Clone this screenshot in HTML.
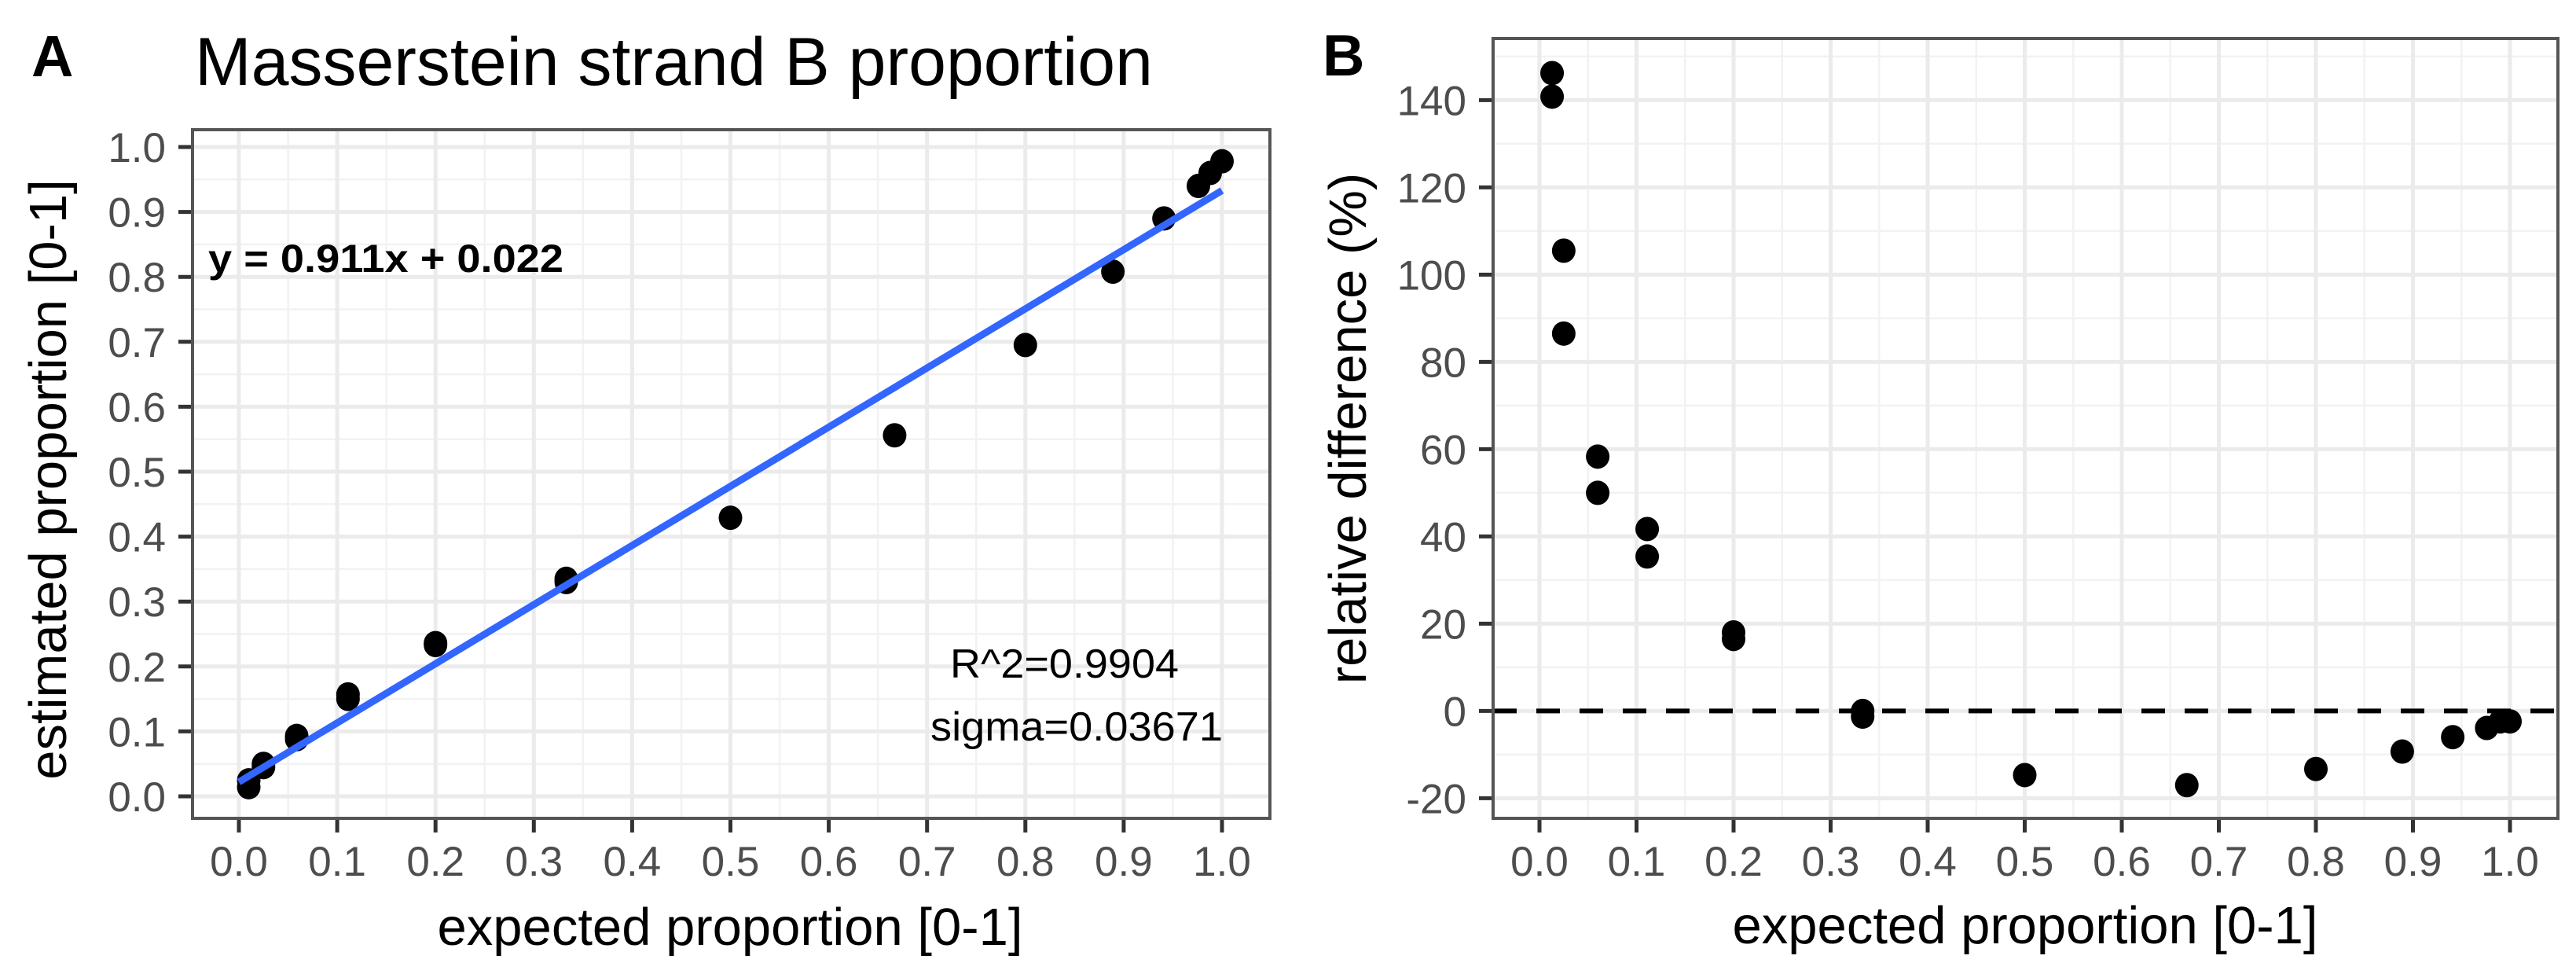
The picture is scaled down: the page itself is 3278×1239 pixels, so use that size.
<!DOCTYPE html>
<html><head><meta charset="utf-8"><style>
html,body{margin:0;padding:0;background:#fff;}
svg{display:block;font-family:"Liberation Sans",Arial,sans-serif;}
</style></head><body>
<svg id="fig" width="3278" height="1239" viewBox="0 0 3278 1239" xmlns="http://www.w3.org/2000/svg">
<rect x="0" y="0" width="3278" height="1239" fill="#fff"/>
<g id="pa"></g>
<g id="pb"></g>
</svg>
<script>
// Panel A data
const aX = [0.01, 0.01, 0.025, 0.025, 0.0588, 0.0588, 0.111, 0.111, 0.2, 0.2, 0.333, 0.333, 0.5, 0.667, 0.8, 0.889, 0.941, 0.976, 0.988, 1.0];
const aY = [0.0246, 0.0141, 0.05, 0.045, 0.093, 0.088, 0.157, 0.150, 0.236, 0.233, 0.335, 0.330, 0.429, 0.556, 0.695, 0.808, 0.890, 0.940, 0.960, 0.978];
const aSlope = [0.911];
const aIntercept = [0.022];
const aXTicks = [0,0.1,0.2,0.3,0.4,0.5,0.6,0.7,0.8,0.9,1.0];
const aYTicks = [0,0.1,0.2,0.3,0.4,0.5,0.6,0.7,0.8,0.9,1.0];
// Panel B data
const bX = [0.013, 0.013, 0.025, 0.025, 0.06, 0.06, 0.111, 0.111, 0.2, 0.2, 0.333, 0.333, 0.5, 0.667, 0.8, 0.889, 0.941, 0.976, 0.99, 1.0];
const bY = [146.2, 140.8, 105.5, 86.5, 58.3, 50, 41.7, 35.4, 18, 16.5, 0, -1.3, -14.7, -17.0, -13.3, -9.3, -6.0, -3.9, -2.4, -2.4];
const bXTicks = [0,0.1,0.2,0.3,0.4,0.5,0.6,0.7,0.8,0.9,1.0];
const bYTicks = [-20,0,20,40,60,80,100,120,140];

const NS = "http://www.w3.org/2000/svg";
function mk(parent, tag, attrs, text){
  const e = document.createElementNS(NS, tag);
  for (const k in attrs) e.setAttribute(k, attrs[k]);
  if (text !== undefined) e.textContent = text;
  parent.appendChild(e);
  return e;
}

function panel(g, cfg){
  const {L,R,T,B,x0px,x1px,xmin,xmax,ypx0,yv0,ypx1,yv1} = cfg;
  const sx = v => x0px + (v - xmin) / (xmax - xmin) * (x1px - x0px);
  const sy = v => ypx0 + (v - yv0) / (yv1 - yv0) * (ypx1 - ypx0);
  cfg.sx = sx; cfg.sy = sy;
  const clipId = cfg.id + "clip";
  const defs = mk(g, "defs", {});
  const cp = mk(defs, "clipPath", {id: clipId});
  mk(cp, "rect", {x:L, y:T, width:R-L, height:B-T});
  const grid = mk(g, "g", {});
  
  
  cfg.xMinor.forEach(v => { const p = sx(v); if (p>L && p<R) mk(grid,"line",{x1:p,x2:p,y1:T,y2:B,stroke:"#f2f2f2","stroke-width":2.5}); });
  cfg.yMinor.forEach(v => { const p = sy(v); if (p>T && p<B) mk(grid,"line",{x1:L,x2:R,y1:p,y2:p,stroke:"#f2f2f2","stroke-width":2.5}); });
  cfg.xTicks.forEach(v => { const p = sx(v); mk(grid,"line",{x1:p,x2:p,y1:T,y2:B,stroke:"#ebebeb","stroke-width":5}); });
  cfg.yTicks.forEach(v => { const p = sy(v); mk(grid,"line",{x1:L,x2:R,y1:p,y2:p,stroke:"#ebebeb","stroke-width":5}); });
  const marks = mk(g, "g", {"clip-path":"url(#"+clipId+")"});
  cfg.marks = marks;
  cfg.xTicks.forEach(v => {
    const p = sx(v);
    const t = mk(g,"line",{x1:p,x2:p,y1:B,y2:B+18,stroke:"#333","stroke-width":5});
    
    
    const lb = mk(g,"text",{x:p,y:B+73,"text-anchor":"middle","font-size":53,fill:"#4d4d4d"}, v.toFixed(1));
    
    
  });
  cfg.yTicks.forEach(v => {
    const p = sy(v);
    const t = mk(g,"line",{x1:L-18,x2:L,y1:p,y2:p,stroke:"#333","stroke-width":5});
    
    
    const lb = mk(g,"text",{x:L-34,y:p+19,"text-anchor":"end","font-size":53,fill:"#4d4d4d"}, cfg.yFmt(v));
    
    
  });
  return cfg;
}

function border(g,cfg){
  const r = mk(g,"rect",{x:cfg.L,y:cfg.T,width:cfg.R-cfg.L,height:cfg.B-cfg.T,fill:"none",stroke:"#555","stroke-width":4});
  
  
}

// ---------- Panel A ----------
const ga = document.getElementById("pa");
const A = panel(ga, {id:"a", L:245, R:1616, T:165, B:1041, x0px:304, x1px:1555, xmin:0, xmax:1,
  ypx0:1013, yv0:0, ypx1:187, yv1:1,
  xTicks:aXTicks, yTicks:aYTicks,
  xMinor:[-0.05,0.05,0.15,0.25,0.35,0.45,0.55,0.65,0.75,0.85,0.95,1.05],
  yMinor:[-0.05,0.05,0.15,0.25,0.35,0.45,0.55,0.65,0.75,0.85,0.95,1.05],
  yFmt: v => v.toFixed(1)});
aX.forEach((x,i) => {
  const c = mk(A.marks,"ellipse",{cx:A.sx(x),cy:A.sy(aY[i]),rx:15,ry:15.5,fill:"#000"});
  
  
});
const fit = mk(A.marks,"line",{x1:A.sx(0),y1:A.sy(aIntercept[0]),x2:A.sx(1),y2:A.sy(aIntercept[0]+aSlope[0]),stroke:"#3366ff","stroke-width":9});


border(ga,A);
</script>
<script>
(function(){
const ga = document.getElementById("pa");
let t;
t = mk(ga,"text",{x:40,y:97,"font-size":74,"font-weight":"bold",fill:"#000"},"A");
 
t = mk(ga,"text",{x:248,y:108,"font-size":86,fill:"#000"},"Masserstein strand B proportion");
 
t = mk(ga,"text",{x:265,y:346,"font-size":50,"font-weight":"bold",fill:"#000",textLength:452,lengthAdjust:"spacingAndGlyphs"},"y = 0.911x + 0.022");
 
t = mk(ga,"text",{x:1209,y:862,"font-size":52,fill:"#000",textLength:291,lengthAdjust:"spacingAndGlyphs"},"R^2=0.9904");
 
t = mk(ga,"text",{x:1184,y:942,"font-size":52,fill:"#000",textLength:372,lengthAdjust:"spacingAndGlyphs"},"sigma=0.03671");
 
t = mk(ga,"text",{x:929,y:1202,"font-size":67,fill:"#000","text-anchor":"middle"},"expected proportion [0-1]");
 
t = mk(ga,"text",{x:0,y:0,"font-size":67,fill:"#000","text-anchor":"middle",transform:"translate(84,610) rotate(-90)"},"estimated proportion [0-1]");
 

// ---------- Panel B ----------
const gb = document.getElementById("pb");
const Bp = panel(gb, {id:"b", L:1900, R:3255, T:49, B:1041, x0px:1959, x1px:3194, xmin:0, xmax:1,
  ypx0:904.4, yv0:0, ypx1:682.4, yv1:40,
  xTicks:bXTicks, yTicks:bYTicks,
  xMinor:[-0.05,0.05,0.15,0.25,0.35,0.45,0.55,0.65,0.75,0.85,0.95,1.05],
  yMinor:[-30,-10,10,30,50,70,90,110,130,150],
  yFmt: v => String(v)});
const zl = mk(Bp.marks,"line",{x1:Bp.L,x2:Bp.R,y1:Bp.sy(0),y2:Bp.sy(0),stroke:"#000","stroke-width":6,"stroke-dasharray":"30 25"});


bX.forEach((x,i) => {
  const c = mk(Bp.marks,"ellipse",{cx:Bp.sx(x),cy:Bp.sy(bY[i]),rx:15,ry:15.5,fill:"#000"});
  
  
});
border(gb,Bp);
t = mk(gb,"text",{x:1683,y:96,"font-size":74,"font-weight":"bold",fill:"#000"},"B");
 
t = mk(gb,"text",{x:2577,y:1200,"font-size":67,fill:"#000","text-anchor":"middle"},"expected proportion [0-1]");
 
t = mk(gb,"text",{x:0,y:0,"font-size":67,fill:"#000","text-anchor":"middle",transform:"translate(1738,545) rotate(-90)"},"relative difference (%)");
 
})();
</script>
</body></html>
